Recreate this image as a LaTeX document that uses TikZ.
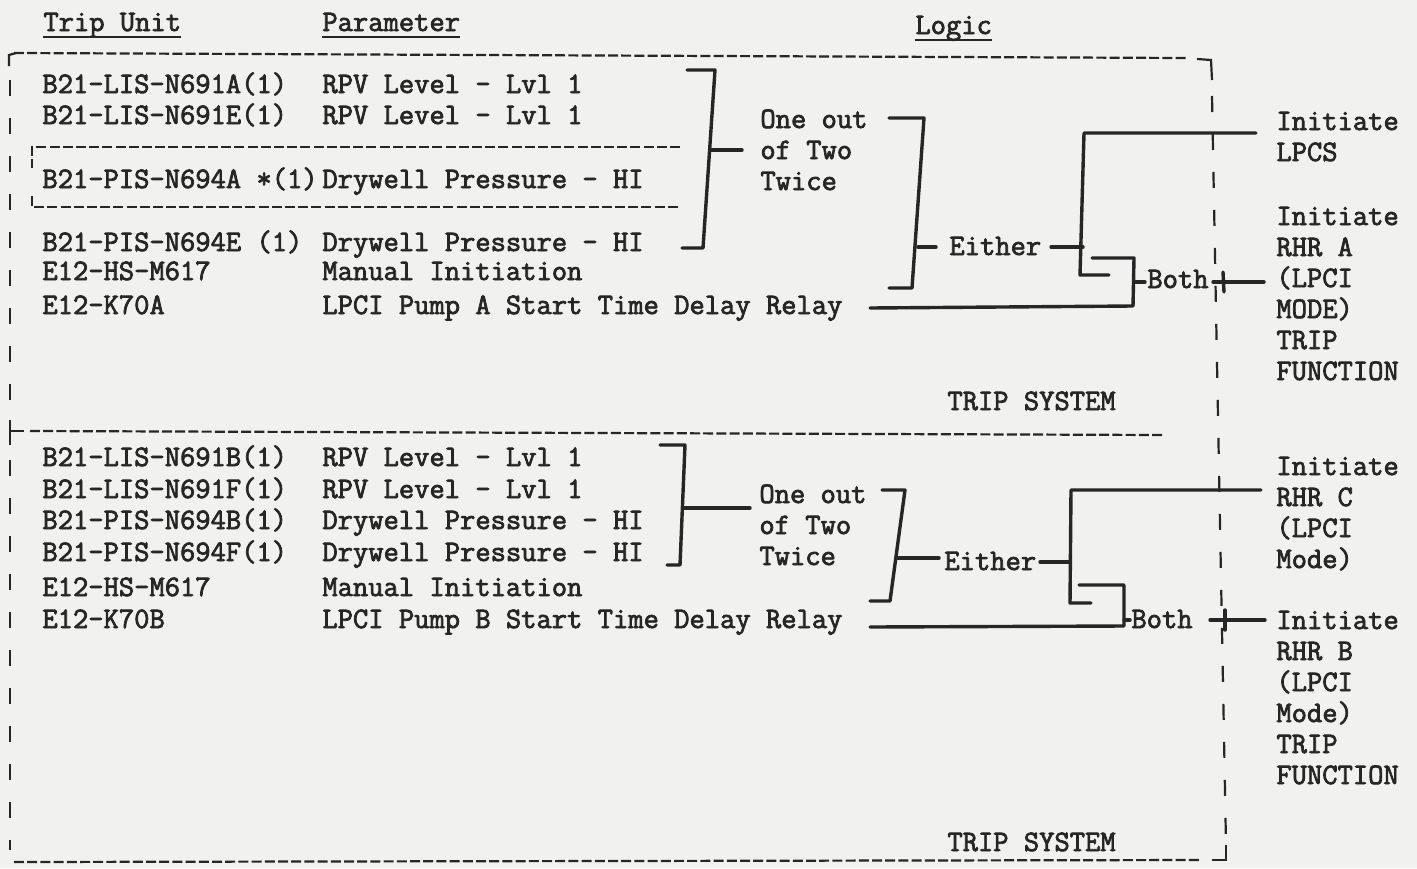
\documentclass[tikz,border=0pt]{standalone}
\usepackage{fontspec}
\usepackage{xcolor}
\usepackage{tikz}
\newfontfamily\typer{Latin Modern Mono}[RawFeature={embolden=2.5}]
\definecolor{paper}{RGB}{241,241,239}
\definecolor{ink}{RGB}{38,38,38}

\begin{document}
\begin{tikzpicture}[x=0.5pt,y=-0.5pt,
  every node/.style={font={\typer\fontsize{14.85}{15.5}\selectfont}, text=ink},
  txt/.style={anchor=base west, inner sep=0pt, yshift=-4pt, align=left},
  wire/.style={draw=ink, line width=1.7pt, line join=round, line cap=round},
  hdash/.style={draw=ink, line width=1.1pt, dash pattern=on 5pt off 1.6pt},
  vdash/.style={draw=ink, line width=1.1pt, dash pattern=on 8pt off 11pt}]
\useasboundingbox (0,0) rectangle (1417,868);
\fill[paper] (0,0) rectangle (1417,868);

% column heads
\node[txt] (hTrip) at (43,23) {Trip Unit};
\node[txt] (hPar) at (322,23) {Parameter};
\node[txt] (hLogic) at (915,26) {Logic};
\foreach \h in {hTrip,hPar,hLogic}
  \draw[ink, line width=1pt] ([yshift=-3.2pt]\h.base west) -- ([yshift=-3.2pt]\h.base east);

% trip units and parameters
\foreach \n/\y/\u/\p in {1/85/{B21-LIS-N691A(1)}/{RPV Level - Lvl 1},
    2/116/{B21-LIS-N691E(1)}/{RPV Level - Lvl 1},
    3/180/{B21-PIS-N694A *(1)}/{Drywell Pressure - HI},
    4/243/{B21-PIS-N694E (1)}/{Drywell Pressure - HI},
    5/272/{E12-HS-M617}/{Manual Initiation},
    6/306/{E12-K70A}/{LPCI Pump A Start Time Delay Relay},
    7/458/{B21-LIS-N691B(1)}/{RPV Level - Lvl 1},
    8/490/{B21-LIS-N691F(1)}/{RPV Level - Lvl 1},
    9/521/{B21-PIS-N694B(1)}/{Drywell Pressure - HI},
    10/553/{B21-PIS-N694F(1)}/{Drywell Pressure - HI},
    11/588/{E12-HS-M617}/{Manual Initiation},
    12/620/{E12-K70B}/{LPCI Pump B Start Time Delay Relay}}{
  \node[txt] (u\n) at (42,\y) {\u};
  \node[txt] (p\n) at (322,\y) {\p};
}

% logic, first trip system (multi-line nodes sit on their last line)
\node[txt] (one1) at (760,182) {One out\\of Two\\Twice};
\node[txt] (either1) at (949,247) {Either};
\node[txt] (both1) at (1147,280) {Both};
\node[txt] (lpcs) at (1276,153) {Initiate\\LPCS};
\node[txt] (rhrA) at (1276,372) {Initiate\\RHR A\\(LPCI\\MODE)\\TRIP\\FUNCTION};
\node[txt] (sys1) at (947,402) {TRIP SYSTEM};

% logic, second trip system
\node[txt] (one2) at (759,557) {One out\\of Two\\Twice};
\node[txt] (either2) at (944,562) {Either};
\node[txt] (both2) at (1131,620) {Both};
\node[txt] (rhrC) at (1276,560) {Initiate\\RHR C\\(LPCI\\Mode)};
\node[txt] (rhrB) at (1276,776) {Initiate\\RHR B\\(LPCI\\Mode)\\TRIP\\FUNCTION};
\node[txt] (sys2) at (947,843) {TRIP SYSTEM};

% dashed frames
\draw[hdash] (14,53) -- (1186,58);
\draw[ink, line width=1.1pt] (1197,59) -- (1211,60) -- (1212,80);
\draw[vdash] (1212,96) -- (1226,845);
\draw[ink, line width=1.1pt] (1226,845) -- (1226,860) -- (1212,860);
\draw[hdash] (14,862) -- (1200,860);
\draw[ink, line width=1.1pt] (16,53) -- (9,55) -- (9,66);
\draw[vdash] (10,80) -- (10,850);
\draw[ink, line width=1.1pt] (10,420) -- (10,445) (10,431) -- (24,431);
\draw[hdash] (30,431) -- (1164,435);
\draw[hdash] (680,147) -- (32,147) -- (32,168);
\draw[hdash] (32,196) -- (32,207) -- (680,207);

% first trip system wiring
\draw[wire] (687,70) -- (715,70) -- (703,248) -- (682,248);
\draw[wire] (710,150) -- (742,150);
\draw[wire] (889,118) -- (924,118) -- (912,288) -- (889,288);
\draw[wire] (918,247) -- (936,247);
\draw[wire] (1051,247) -- (1083,247);
\draw[wire] (1256,133) -- (1084,133) -- (1080,275) -- (1109,275);
\draw[wire] (1092,258) -- (1134,258) -- (1133,306) -- (870,308);
\draw[wire] (1134,282) -- (1145,282);
\draw[wire] (1213,282) -- (1264,282);
\draw[wire] (1223,272) -- (1224,292);

% second trip system wiring
\draw[wire] (660,445) -- (685,445) -- (680,565) -- (667,565);
\draw[wire] (684,508) -- (750,508);
\draw[wire] (882,490) -- (905,490) -- (890,601) -- (870,601);
\draw[wire] (898,558) -- (939,558);
\draw[wire] (1040,562) -- (1070,562);
\draw[wire] (1261,490) -- (1071,490) -- (1070,603) -- (1091,603);
\draw[wire] (1079,585) -- (1124,585) -- (1124,626) -- (870,627);
\draw[wire] (1124,620) -- (1130,620);
\draw[wire] (1210,620) -- (1265,620);
\draw[wire] (1225,610) -- (1225,630);
\end{tikzpicture}
\end{document}
